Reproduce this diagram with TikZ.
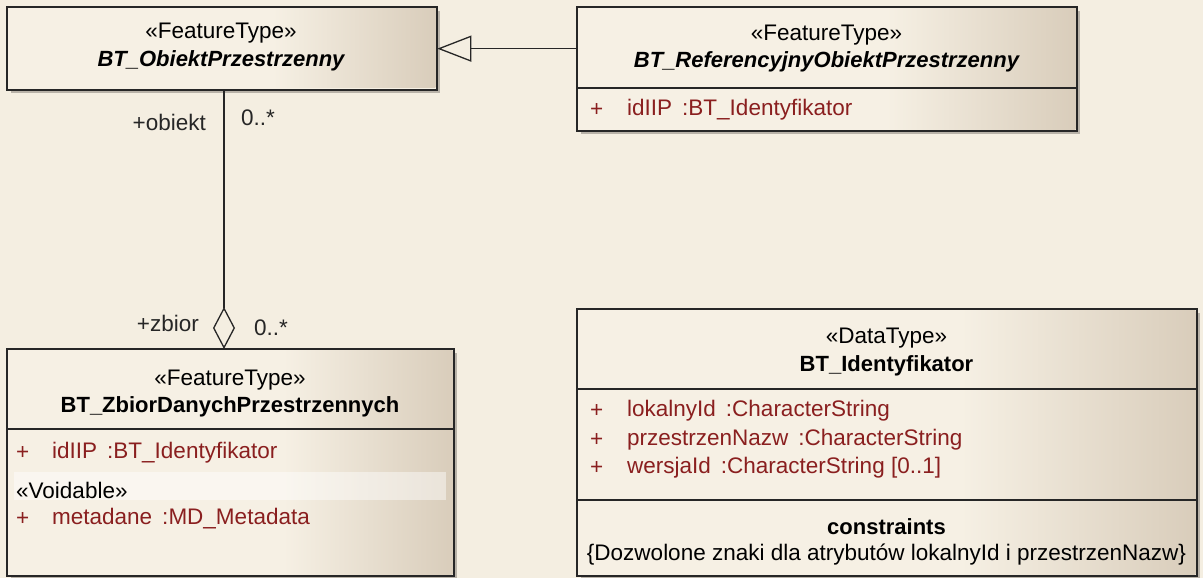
\documentclass[tikz,border=0pt]{standalone}
\usepackage{fontspec}
\setmainfont{Liberation Sans}
\usetikzlibrary{arrows.meta}
\definecolor{bg}{HTML}{F4EEE1}
\definecolor{boxl}{HTML}{F6F0E4}
\definecolor{boxr}{HTML}{D9CDBB}
\definecolor{attr}{HTML}{8A1F1F}
\definecolor{shadowc}{HTML}{B8B2A8}
\tikzset{
  x=1pt, y=-1pt,
  umlbox/.style={draw=black!85, line width=1.3pt, fill=boxl, anchor=north west, inner sep=0pt},
  txt/.style={font=\fontsize{22.5}{26}\selectfont, inner sep=0pt},
  bold/.style={font=\fontsize{22}{26}\selectfont\bfseries},
  bolditalic/.style={font=\fontsize{22}{26}\selectfont\bfseries\itshape},
  attrtxt/.style={txt, text=attr, anchor=west},
  lbl/.style={txt, text=black!85},
  conn/.style={draw=black!85, line width=1.3pt},
}
\newcommand{\umlrect}[5]{% name, x, y, w, h
  \fill[shadowc] (#2+4,#3+4) rectangle (#2+#4+4,#3+#5+4);
  \node[umlbox, minimum width=#4pt, minimum height=#5pt] (#1) at (#2,#3) {};
  \shade[left color=boxl, right color=boxr] (#2+0.62*#4,#3+1) rectangle (#2+#4-0.7,#3+#5-1);
  \draw[black!85, line width=1.3pt] (#1.north west) rectangle (#1.south east);
}
\begin{document}
\begin{tikzpicture}
\useasboundingbox[fill=bg] (0,0) rectangle (1203,578);

% Box A
\umlrect{A}{7}{7}{429}{82}
\node[txt] (Ast) at (221,33) {«FeatureType»};
\node[txt, bolditalic] (Anm) at (221,61) {BT\_ObiektPrzestrzenny};

% Box B
\umlrect{B}{577}{7}{499}{123}
\draw[black!85, line width=1.3pt] (577,88) -- (1076,88);
\node[txt] (Bst) at (826.5,35) {«FeatureType»};
\node[txt, bolditalic] (Bnm) at (826.5,62) {BT\_ReferencyjnyObiektPrzestrzenny};
\node[attrtxt] (Bp1) at (590,110) {+};
\node[attrtxt] (Ba1) at (627,110) {idIIP\hspace{10pt}:BT\_Identyfikator};

% Box C
\umlrect{C}{7}{349}{446}{226}
\draw[black!85, line width=1.3pt] (7,429) -- (453,429);
\node[txt] (Cst) at (230,380) {«FeatureType»};
\node[txt, bold] (Cnm) at (230,407) {BT\_ZbiorDanychPrzestrzennych};
\node[attrtxt] (Cp1) at (16,453) {+};
\node[attrtxt] (Ca1) at (52,453) {idIIP\hspace{10pt}:BT\_Identyfikator};
\fill[white, opacity=0.45] (14,472) rectangle (446,500);
\node[txt, anchor=west] (Cvd) at (16,490) {«Voidable»};
\node[attrtxt] (Cp2) at (16,519) {+};
\node[attrtxt] (Ca2) at (52,519) {metadane\hspace{10pt}:MD\_Metadata};

% Box D
\umlrect{D}{577}{309}{619}{266}
\draw[black!85, line width=1.3pt] (577,389) -- (1196,389);
\draw[black!85, line width=1.3pt] (577,500) -- (1196,500);
\node[txt] (Dst) at (886.5,338) {«DataType»};
\node[txt, bold] (Dnm) at (886.5,366) {BT\_Identyfikator};
\node[attrtxt] (Dp1) at (590,411) {+};
\node[attrtxt] (Da1) at (627,411) {lokalnyId\hspace{10pt}:CharacterString};
\node[attrtxt] (Dp2) at (590,440) {+};
\node[attrtxt] (Da2) at (627,440) {przestrzenNazw\hspace{10pt}:CharacterString};
\node[attrtxt] (Dp3) at (590,468) {+};
\node[attrtxt] (Da3) at (627,468) {wersjaId\hspace{10pt}:CharacterString [0..1]};
\node[txt, bold] (Dcn) at (886.5,527) {constraints};
\node[txt] (Dct) at (886.5,555) {\{Dozwolone znaki dla atrybutów lokalnyId i przestrzenNazw\}};

% Generalization
\draw[conn, -{Triangle[open, length=34pt, width=26pt, fill=bg]}] (B.west |- A.east) -- (A.east);

% Aggregation
\coordinate (ax) at (224,0);
\draw[conn, -{Diamond[open, length=42pt, width=22pt, fill=bg]}] (A.south -| ax) -- (C.north -| ax);
\node[lbl, anchor=east] (l1) at (206,122) {+obiekt};
\node[lbl, anchor=west] (l2) at (241,118) {0..*};
\node[lbl, anchor=east] (l3) at (199,323) {+zbior};
\node[lbl, anchor=west] (l4) at (254,328) {0..*};
\end{tikzpicture}
\end{document}
